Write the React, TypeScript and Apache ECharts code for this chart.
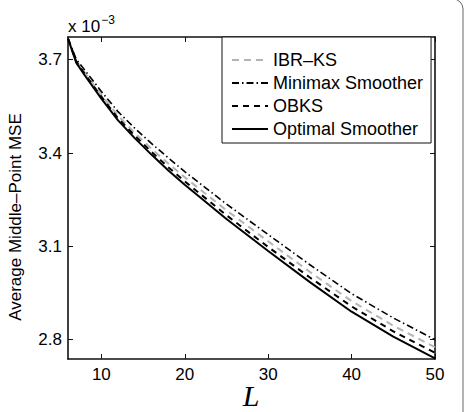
import React, { useEffect, useRef } from "react";
import * as echarts from "echarts";

const lValues = [6, 7, 8, 10, 12, 14, 16, 18, 20, 25, 30, 35, 40, 45, 50];
const optimalSmoother = [3.768, 3.69, 3.65, 3.575, 3.505, 3.448, 3.395, 3.345, 3.298, 3.188, 3.085, 2.985, 2.89, 2.81, 2.74];
const obks = [3.768, 3.693, 3.655, 3.581, 3.512, 3.456, 3.404, 3.355, 3.309, 3.2, 3.098, 3.0, 2.907, 2.827, 2.758];
const ibrKs = [3.768, 3.696, 3.659, 3.587, 3.52, 3.465, 3.414, 3.367, 3.322, 3.216, 3.116, 3.018, 2.924, 2.845, 2.776];
const minimaxSmoother = [3.768, 3.701, 3.667, 3.598, 3.533, 3.48, 3.431, 3.385, 3.34, 3.236, 3.138, 3.041, 2.948, 2.87, 2.8];

const xTicks = [10, 20, 30, 40, 50];
const yTicks = [2.8, 3.1, 3.4, 3.7];
const seriesNames = ["IBR\u2013KS", "Minimax Smoother", "OBKS", "Optimal Smoother"];

const FONT = "'Liberation Sans', Arial, Helvetica, sans-serif";

export default function App() {
  const ref = useRef<HTMLDivElement>(null);
  useEffect(() => {
    if (!ref.current) return;
    const chart = echarts.init(ref.current, null, { renderer: "svg" });
    const toPairs = (vals: number[]) => lValues.map((x, i) => [x, vals[i]]);
    const axisLine = { show: true, lineStyle: { color: "#111", width: 1.6 } };
    const tickStyle = { show: true, inside: true, length: 5, lineStyle: { color: "#111", width: 1 } };
    const option: any = {
      animation: false,
      backgroundColor: "#fff",
      grid: { left: 68, right: 33, top: 37, bottom: 53, containLabel: false },
      xAxis: [
        {
          type: "value", min: 6, max: 50, position: "bottom",
          axisLine, splitLine: { show: false },
          axisTick: { ...tickStyle, customValues: xTicks },
          axisLabel: { customValues: xTicks, fontSize: 17, color: "#000", fontFamily: FONT, margin: 7 },
        },
        {
          type: "value", min: 6, max: 50, position: "top",
          axisLine, splitLine: { show: false },
          axisTick: { ...tickStyle, customValues: xTicks },
          axisLabel: { show: false },
        },
      ],
      yAxis: [
        {
          type: "value", min: 2.738, max: 3.773, position: "left",
          axisLine, splitLine: { show: false },
          axisTick: { ...tickStyle, customValues: yTicks },
          axisLabel: { customValues: yTicks, fontSize: 17, color: "#000", fontFamily: FONT, margin: 6, formatter: (v: number) => v.toFixed(1) },
        },
        {
          type: "value", min: 2.738, max: 3.773, position: "right",
          axisLine, splitLine: { show: false },
          axisTick: { ...tickStyle, customValues: yTicks },
          axisLabel: { show: false },
        },
      ],
      legend: {
        orient: "vertical",
        left: 222,
        top: 37,
        itemWidth: 36,
        itemHeight: 12,
        itemGap: 5,
        padding: [14, 8, 5, 9],
        borderColor: "#111",
        borderWidth: 1,
        backgroundColor: "#fff",
        itemStyle: { opacity: 0, borderWidth: 0 },
        textStyle: { fontSize: 18, color: "#000", fontFamily: FONT },
        data: seriesNames,
      },
      series: [
        {
          name: seriesNames[0], type: "line", symbol: "none", data: toPairs(ibrKs),
          lineStyle: { color: "#b4b4b4", width: 2, type: [7, 5] }, itemStyle: { color: "#b4b4b4" },
        },
        {
          name: seriesNames[1], type: "line", symbol: "none", data: toPairs(minimaxSmoother),
          lineStyle: { color: "#000", width: 1.6, type: [7, 3, 1.5, 3] }, itemStyle: { color: "#000" },
        },
        {
          name: seriesNames[2], type: "line", symbol: "none", data: toPairs(obks),
          lineStyle: { color: "#000", width: 2, type: [6, 5] }, itemStyle: { color: "#000" },
        },
        {
          name: seriesNames[3], type: "line", symbol: "none", data: toPairs(optimalSmoother),
          lineStyle: { color: "#000", width: 2, type: "solid" }, itemStyle: { color: "#000" },
        },
      ],
      graphic: [
        {
          type: "rect", shape: { x: -20, y: -1, width: 483, height: 440, r: 10 },
          style: { fill: "none", stroke: "#666", lineWidth: 1 }, silent: true,
        },
        {
          type: "text", x: 68, y: 26,
          style: {
            text: "{a|x 10}{b|\u22123}", fill: "#000",
            rich: {
              a: { fontSize: 17, fontFamily: FONT, verticalAlign: "middle" },
              b: { fontSize: 12, fontFamily: FONT, padding: [0, 0, 12, 1] },
            },
            verticalAlign: "middle",
          },
        },
        {
          type: "text", x: 15, y: 217, rotation: Math.PI / 2,
          style: {
            text: "Average Middle\u2013Point MSE", fontSize: 17, fontFamily: FONT, fill: "#000",
            align: "center", verticalAlign: "middle",
          },
        },
        {
          type: "text", x: 251, y: 395,
          style: {
            text: "L", fontSize: 30, fontStyle: "italic", fontFamily: "'Liberation Serif', 'Times New Roman', serif", fill: "#000",
            align: "center", verticalAlign: "middle",
          },
        },
      ],
    };
    chart.setOption(option);
    return () => chart.dispose();
  }, []);
  return <div ref={ref} style={{ width: 468, height: 412, position: "absolute", left: 0, top: 0 }} />;
}
